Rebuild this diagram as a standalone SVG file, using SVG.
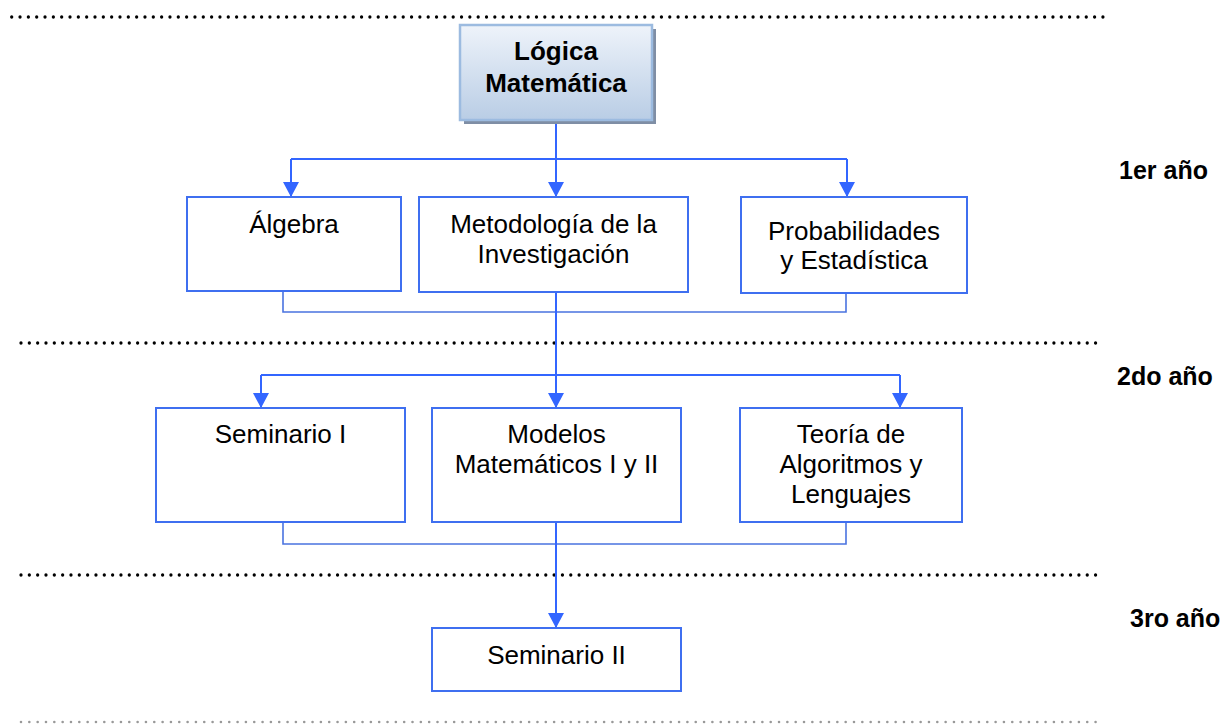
<svg xmlns="http://www.w3.org/2000/svg" width="1227" height="724" viewBox="0 0 1227 724">
<defs>
<linearGradient id="lg" x1="0" y1="0" x2="0" y2="1">
<stop offset="0" stop-color="#eef3fa"/>
<stop offset="1" stop-color="#b9cde5"/>
</linearGradient>
<marker id="arr" markerWidth="15" markerHeight="16" refX="15" refY="8" orient="auto" markerUnits="userSpaceOnUse" viewBox="0 0 15 16">
<path d="M0,0 L15,8 L0,16 Z" fill="#3366ff"/>
</marker>
</defs>
<style>
.dots{stroke:#000;stroke-width:3.3;stroke-linecap:round;stroke-dasharray:0 8.33;fill:none}
.dots2{stroke:#999;stroke-width:2.6;stroke-linecap:round;stroke-dasharray:0 8.33;fill:none}
.box{fill:#fff;stroke:#3f6ff0;stroke-width:2}
.t{font-family:"Liberation Sans",Arial,sans-serif;font-size:26px;fill:#000;text-anchor:middle}
.b{font-family:"Liberation Sans",Arial,sans-serif;font-size:25px;font-weight:bold;fill:#000}
.c{fill:none;stroke:#3366ff;stroke-width:2}
.br{fill:none;stroke:#4a73e0;stroke-width:1.6}
</style>
<g id="separators">
<line class="dots" x1="11.7" y1="17" x2="1105" y2="17"/>
<line class="dots" x1="21" y1="343" x2="1100" y2="343"/>
<line class="dots" x1="21" y1="575" x2="1100" y2="575"/>
<line class="dots2" x1="21" y1="722" x2="1100" y2="722"/>
</g>
<g id="year-labels">
<text class="b" x="1119" y="179">1er año</text>
<text class="b" x="1117" y="385">2do año</text>
<text class="b" x="1130" y="627">3ro año</text>
</g>
<g id="connectors">
<path class="c" d="M556,124 V159"/>
<path class="c" d="M291,159 H847"/>
<path class="c" d="M291,159 V197" marker-end="url(#arr)"/>
<path class="c" d="M556,159 V197" marker-end="url(#arr)"/>
<path class="c" d="M847,159 V197" marker-end="url(#arr)"/>
<path class="br" d="M283,292 V312 H846 V293"/>
<path class="c" d="M556,292 V375"/>
<path class="c" d="M261,375 H900"/>
<path class="c" d="M261,375 V408" marker-end="url(#arr)"/>
<path class="c" d="M556,375 V408" marker-end="url(#arr)"/>
<path class="c" d="M900,375 V408" marker-end="url(#arr)"/>
<path class="br" d="M283,522 V544 H846 V522"/>
<path class="c" d="M556,522 V628" marker-end="url(#arr)"/>
</g>
<g id="logica">
<rect x="464" y="29" width="192" height="95" fill="#7f8ea5"/>
<rect x="460" y="25" width="192" height="95" fill="url(#lg)" stroke="#9cbbe0" stroke-width="2.5"/>
<text class="t" font-weight="bold" x="556" y="60">Lógica</text>
<text class="t" font-weight="bold" x="556" y="92">Matemática</text>
</g>
<g id="algebra">
<rect class="box" x="187" y="197" width="214" height="94"/>
<text class="t" x="294" y="233">Álgebra</text>
</g>
<g id="metodologia">
<rect class="box" x="419" y="197" width="269" height="95"/>
<text class="t" x="553.5" y="233">Metodología de la</text>
<text class="t" x="553.5" y="263">Investigación</text>
</g>
<g id="probabilidades">
<rect class="box" x="741" y="197" width="226" height="96"/>
<text class="t" x="854" y="240">Probabilidades</text>
<text class="t" x="854" y="269">y Estadística</text>
</g>
<g id="seminario1">
<rect class="box" x="156" y="408" width="249" height="114"/>
<text class="t" x="280.5" y="443">Seminario I</text>
</g>
<g id="modelos">
<rect class="box" x="432" y="408" width="249" height="114"/>
<text class="t" x="556.5" y="443">Modelos</text>
<text class="t" x="556.5" y="473">Matemáticos I y II</text>
</g>
<g id="teoria">
<rect class="box" x="740" y="408" width="222" height="114"/>
<text class="t" x="851" y="443">Teoría de</text>
<text class="t" x="851" y="473">Algoritmos y</text>
<text class="t" x="851" y="503">Lenguajes</text>
</g>
<g id="seminario2">
<rect class="box" x="432" y="628" width="249" height="63"/>
<text class="t" x="556.5" y="664">Seminario II</text>
</g>
</svg>
